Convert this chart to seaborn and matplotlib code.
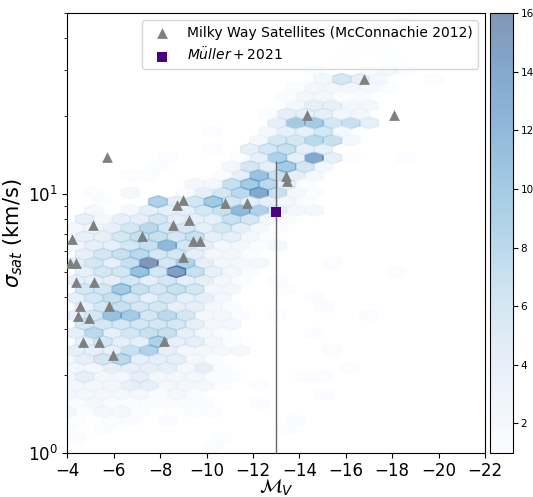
import numpy as np
import matplotlib
matplotlib.use("Agg")
import matplotlib.pyplot as plt
import seaborn as sns
import pandas as pd

# ---------------- data ----------------
# Hexbin cell counts (base-36 digits, so 'g' = 16), one string per half-row
# of the hex lattice, from the top half-row (index 28) down to the bottom one
# (index -21); 22 cells per string, from M_V ~ -4 towards brighter magnitudes.
density_rows = [
    "0000000000000000001000",  # 28
    "0000000000000000010000",  # 27
    "0000000000000000100000",  # 26
    "0000000000000000110000",  # 25
    "0000000000000001010000",  # 24
    "0000000000000001001000",  # 23
    "0000000000000100121000",  # 22
    "0000000000000026420010",  # 21
    "0000000000001222210000",  # 20
    "0000000000001221100000",  # 19
    "0000000000002442200000",  # 18
    "0000000000014442200000",  # 17
    "000000000004aa67400000",  # 16
    "0000000010024462000000",  # 15
    "0000000000266872000000",  # 14
    "0000000010467440000000",  # 13
    "0000010001494e41001000",  # 12
    "000001000264a620000000",  # 11
    "0001100014b74200000000",  # 10
    "0000000227a84100000000",  # 9
    "0102001468e72100000000",  # 8
    "00100946a6442100000000",  # 7
    "020244467c942200000000",  # 6
    "0424464447621000000000",  # 5
    "2246866464210000000000",  # 4
    "0446776744210000000000",  # 3
    "24467c6422120000000000",  # 2
    "0467866422100000000000",  # 1
    "4647g69422200010000000",  # 0
    "0466b6f742100000001000",  # -1
    "4446464421010000000000",  # -2
    "066a767622001000000000",  # -3
    "4676464420000100000000",  # -4
    "0467664421000010000000",  # -5
    "46ba686221010000100000",  # -6
    "0666666422000000000000",  # -7
    "4846774210000100000000",  # -8
    "0464494421000000000000",  # -9
    "4447942222000010000000",  # -10
    "2468444210000000000000",  # -11
    "2244442410000001000000",  # -12
    "2422422211000110000000",  # -13
    "2224422210100000000000",  # -14
    "2222212100000010000000",  # -15
    "1211111100100000000000",  # -16
    "2122100110000000000000",  # -17
    "1011010000001000000000",  # -18
    "1010000000001000000000",  # -19
    "1000000010000000000000",  # -20
    "0000000010000000000000",  # -21
]
top_half_row = 28

# Milky Way satellites (McConnachie 2012)
mw_mv = [-5.70, -4.19, -5.10, -4.11, -4.37, -4.37, -5.14, -4.54, -4.45, -4.92,
         -5.78, -4.67, -5.35, -5.96, -8.15, -7.20, -8.54, -8.71, -8.97, -9.23,
         -9.40, -9.70, -8.97, -10.77, -11.72, -13.44, -13.48, -14.34, -16.80, -18.09]
mw_sigma = [13.9, 6.70, 7.59, 5.41, 5.41, 4.57, 4.57, 3.69, 3.38, 3.32,
            3.69, 2.68, 2.68, 2.39, 2.70, 6.88, 7.59, 9.07, 9.48, 7.94,
            6.58, 6.58, 5.71, 9.23, 9.23, 11.74, 11.23, 20.2, 27.8, 20.2]

# Mueller et al. 2021
muller_mv = [-13.0]
muller_sigma = [8.5]
muller_err_low = [8.0]
muller_err_high = [4.9]

# ---------------- hex lattice geometry ----------------
SX = 0.7914     # cell spacing in M_V
SY = 0.06765    # cell spacing in log10(sigma)
MV0 = -7.505    # an anchor cell centre
L0 = 0.7333

cell_mv, cell_sigma, cell_n = [], [], []
for r, row in enumerate(density_rows):
    h = top_half_row - r
    for c, ch in enumerate(row[:22]):
        n = int(ch, 36)
        if n == 0:
            continue
        shift = 4.0 if h % 2 == 0 else 4.5
        cell_mv.append(MV0 - (c - shift) * SX)
        cell_sigma.append(10 ** (L0 + h * SY / 2))
        cell_n.append(n)

cells = pd.DataFrame({"mv": cell_mv, "sigma": cell_sigma, "n": cell_n})
mw = pd.DataFrame({"mv": mw_mv, "sigma": mw_sigma})
mu = pd.DataFrame({"mv": muller_mv, "sigma": muller_sigma})

xmin = MV0 - 18 * SX
ymin = L0 - 12 * SY
extent = (xmin, xmin + 23 * SX, ymin, ymin + 27 * SY)

# ---------------- figure ----------------
fig = plt.figure(figsize=(5.33, 4.97), dpi=100)
ax = fig.add_axes([0.1266, 0.0891, 0.7834, 0.8847])
cax = fig.add_axes([0.9193, 0.0891, 0.0432, 0.8847])

hb = ax.hexbin(cells["mv"], cells["sigma"], C=cells["n"], reduce_C_function=np.sum,
               gridsize=(23, 27), extent=extent, yscale="log", cmap="Blues",
               alpha=0.5, vmin=1, vmax=16, zorder=1)

ax.errorbar(muller_mv, muller_sigma, yerr=[muller_err_low, muller_err_high],
            fmt="none", ecolor="#666666", elinewidth=1.0, capsize=0, zorder=2)

sns.scatterplot(data=mw, x="mv", y="sigma", marker="^", color="grey", s=60,
                linewidth=0, label="Milky Way Satellites (McConnachie 2012)",
                ax=ax, zorder=3)
sns.scatterplot(data=mu, x="mv", y="sigma", marker="s", color="indigo", s=60,
                linewidth=0, label=r"$M\ddot{u}ller+2021$", ax=ax, zorder=4)

ax.set_yscale("log")
ax.set_xlim(-4, -22)
ax.set_ylim(1, 50)
ax.set_xticks(np.arange(-4, -23, -2))
ax.tick_params(axis="both", which="major", labelsize=12)
ax.set_xlabel(r"$\mathcal{M}_V$", fontsize=14, labelpad=-2)
ax.set_ylabel(r"$\sigma_{sat}$ (km/s)", fontsize=15, labelpad=2)

leg = ax.legend(loc="upper right", fontsize=10, frameon=True)

cb = fig.colorbar(hb, cax=cax)
cb.set_ticks([2, 4, 6, 8, 10, 12, 14, 16])
cb.ax.tick_params(labelsize=7.5, pad=2)

fig.savefig("out.png", dpi=100)
